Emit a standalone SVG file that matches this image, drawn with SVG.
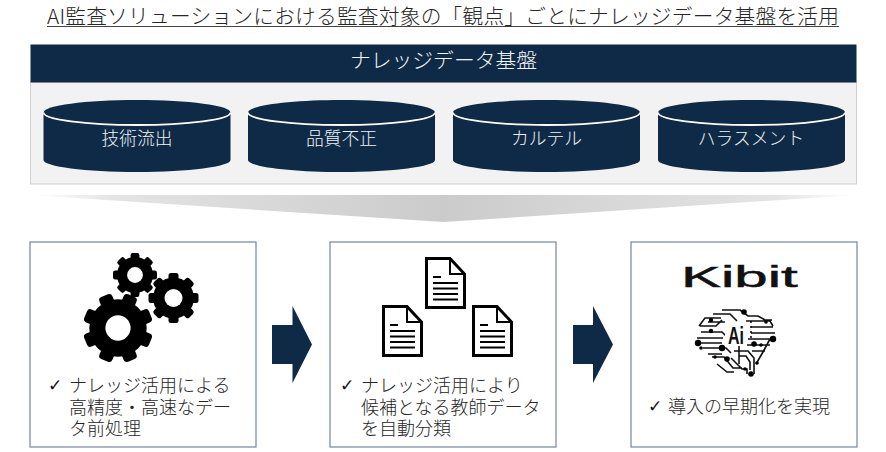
<svg xmlns="http://www.w3.org/2000/svg" width="886" height="452" viewBox="0 0 886 452">
<style>
text{font-family:"Noto Sans CJK JP","Noto Sans",sans-serif;font-weight:300}
.nav{fill:#0f2a46}
.cyl{font-size:17.800px;fill:#eef2f6;text-anchor:middle}
.body{font-size:18px;fill:#262626}
.chk{font-family:"DejaVu Sans",sans-serif;font-size:17px;fill:#111;font-weight:400}
.box{fill:#fff;stroke:#74879a;stroke-width:1.200}
.trace{fill:none;stroke:#111;stroke-width:1.600}
</style>
<defs>
<linearGradient id="fade" x1="0" x2="1" y1="0" y2="0">
<stop offset="0" stop-color="#fff"/><stop offset=".1" stop-color="#e4e4e4"/><stop offset=".5" stop-color="#cbcbcb"/><stop offset=".9" stop-color="#e4e4e4"/><stop offset="1" stop-color="#fff"/>
</linearGradient>
<g id="cylinder">
<path class="nav" d="M0 12.500V60C0 66.500 42 72 93.500 72S187 66.500 187 60V12.500C187 5.500 145 0 93.500 0S0 5.500 0 12.500Z"/>
<path d="M0 12.500C0 19.500 42 25 93.500 25S187 19.500 187 12.500" fill="none" stroke="#fff" stroke-width="1.800"/>
</g>
<g id="gear">
<rect x="-.2" y="-1" width=".4" height="2" rx=".1"/>
<rect x="-.2" y="-1" width=".4" height="2" rx=".1" transform="rotate(45)"/>
<rect x="-.2" y="-1" width=".4" height="2" rx=".1" transform="rotate(90)"/>
<rect x="-.2" y="-1" width=".4" height="2" rx=".1" transform="rotate(135)"/>
<circle r=".82"/>
<circle r=".36" fill="#fff"/>
</g>
<g id="doc">
<path d="M1.500 1.500H25L39.500 17V50.500H1.500Z" fill="#fff" stroke="#000" stroke-width="3"/>
<path d="M25 1.500V17H39.500" fill="none" stroke="#000" stroke-width="2"/>
<path d="M8 20H16M8 26H33M8 31.500H33M8 37H33M8 42.500H33" stroke="#000" stroke-width="2"/>
</g>
</defs>

<g id="title">
<text x="47" y="24" font-size="20.700" fill="#262626" textLength="792" lengthAdjust="spacing">AI監査ソリューションにおける監査対象の「観点」ごとにナレッジデータ基盤を活用</text>
<line x1="47" y1="26.500" x2="839" y2="26.500" stroke="#444" stroke-width="1"/>
</g>

<g id="platform">
<rect x="30.500" y="82" width="826" height="102" fill="#f2f2f2" stroke="#cfcfcf"/>
<rect class="nav" x="30.500" y="44.500" width="826" height="38"/>
<text x="443.500" y="68" font-size="20.800" fill="#f2f5f8" text-anchor="middle">ナレッジデータ基盤</text>
</g>
<g id="db-1"><use href="#cylinder" x="43.500" y="100"/><text class="cyl" x="137" y="145">技術流出</text></g>
<g id="db-2"><use href="#cylinder" x="248" y="100"/><text class="cyl" x="341.500" y="145">品質不正</text></g>
<g id="db-3"><use href="#cylinder" x="453" y="100"/><text class="cyl" x="546.500" y="145">カルテル</text></g>
<g id="db-4"><use href="#cylinder" x="658" y="100"/><text class="cyl" x="751" y="145">ハラスメント</text></g>

<g id="connectors">
<polygon points="30,195 857,195 443.500,222" fill="url(#fade)"/>
<polygon class="nav" points="272,325 292.500,325 292.500,306 312,344.500 292.500,383 292.500,364 272,364"/>
<polygon class="nav" points="573,325 593,325 593,306 613,344.500 593,383 593,364 573,364"/>
</g>

<g id="step-1">
<rect class="box" x="30" y="242" width="226" height="205"/>
<use href="#gear" transform="translate(118 328) rotate(22.500) scale(35)"/>
<use href="#gear" transform="translate(135 275) scale(22)"/>
<use href="#gear" transform="translate(173.500 298) scale(25)"/>
<text class="chk" x="48" y="391">✓</text>
<text class="body" x="69" y="392">ナレッジ活用による</text>
<text class="body" x="69" y="414">高精度・高速なデー</text>
<text class="body" x="69" y="435">タ前処理</text>
</g>

<g id="step-2">
<rect class="box" x="330" y="242" width="226" height="205"/>
<use href="#doc" x="425" y="257"/>
<use href="#doc" x="382" y="305"/>
<use href="#doc" x="472" y="305"/>
<text class="chk" x="340" y="391">✓</text>
<text class="body" x="361" y="392">ナレッジ活用により</text>
<text class="body" x="361" y="414">候補となる教師データ</text>
<text class="body" x="361" y="435">を自動分類</text>
</g>

<g id="step-3">
<rect class="box" x="631" y="242" width="226" height="205"/>
<text transform="translate(681 287) scale(2 1)" font-size="30" fill="#111" stroke="#111" stroke-width=".5" style="font-family:'Liberation Sans',sans-serif;font-weight:400">Kibit</text>
<g id="brain">
<path class="trace" d="M699 326L705 318H721M701 332H722L727 337M697 338H723M700 343H722M703 348H726L731 353M708 354H722M708 322H725M713 314H730L737 321M722 310H740L748 316H758L765 320H772M746 321H770L773 326M751 327H773M751 333H775M748 339H775M747 345H770M770 339L763 352L756 364M734 351H748L754 358V374M739 356H746L750 362V370M731 358L742 369H747V374M712 357H724L733 368H742M739 345V364M752 351H765M717 364L727 372H734M700 326H716L722 320"/>
<circle cx="744" cy="312" r="2.800"/><circle cx="698" cy="343" r="3.200"/><circle cx="773" cy="339" r="3.200"/><circle cx="722" cy="348" r="3.200"/><circle cx="754" cy="344" r="2.800"/><circle cx="727" cy="359" r="2.800"/><circle cx="751" cy="374" r="2.800"/><circle cx="745" cy="369" r="1.800"/><circle cx="711" cy="320" r="2.200"/><circle cx="701" cy="348" r="1.800"/><circle cx="715" cy="357" r="1.800"/><circle cx="761" cy="345" r="1.800"/><circle cx="757" cy="363" r="1.800"/><circle cx="766" cy="322" r="1.800"/><circle cx="711" cy="331" r="2.200"/>
<circle cx="751" cy="322" r="1"/><circle cx="751" cy="327" r="1"/><circle cx="751" cy="332" r="1"/><circle cx="751" cy="337" r="1"/>
<rect x="725" y="322" width="22" height="24" fill="#fff"/>
<text transform="translate(736 344) scale(.8 1.200)" font-size="20" fill="#111" text-anchor="middle" style="font-family:'Liberation Sans',sans-serif;font-weight:700">Ai</text>
</g>
<text class="chk" x="648" y="412">✓</text>
<text class="body" x="668" y="413">導入の早期化を実現</text>
</g>
</svg>
